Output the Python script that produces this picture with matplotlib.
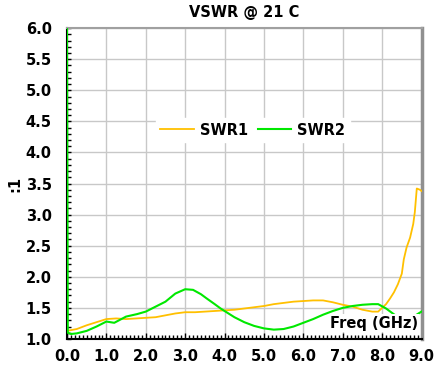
import matplotlib
matplotlib.use('Agg')
import matplotlib.pyplot as plt
from matplotlib.ticker import MultipleLocator, FormatStrFormatter

plt.rcParams['font.family'] = ['DejaVu Sans']
plt.rcParams['font.weight'] = 'bold'

# SWR1 (yellow)
freq1 = [0.0, 0.25, 0.5, 0.75, 1.0, 1.25, 1.5, 1.75, 2.0, 2.25, 2.5, 2.75,
         3.0, 3.25, 3.5, 3.75, 4.0, 4.25, 4.5, 4.75, 5.0, 5.25, 5.5, 5.75,
         6.0, 6.25, 6.5, 6.75, 7.0, 7.25, 7.5, 7.75, 7.9, 8.0, 8.1, 8.2,
         8.3, 8.4, 8.5, 8.55, 8.62, 8.71, 8.79, 8.83, 8.88, 8.96, 9.0]
swr1 = [1.13, 1.16, 1.22, 1.27, 1.32, 1.33, 1.32, 1.33, 1.34, 1.35, 1.38, 1.41,
        1.43, 1.43, 1.44, 1.45, 1.46, 1.47, 1.49, 1.51, 1.53, 1.56, 1.58, 1.60,
        1.61, 1.62, 1.62, 1.59, 1.55, 1.52, 1.47, 1.44, 1.44, 1.50, 1.56, 1.65,
        1.75, 1.88, 2.05, 2.28, 2.47, 2.63, 2.85, 3.04, 3.42, 3.40, 3.38]

# SWR2 (green)
freq2 = [0.0, 0.02, 0.1, 0.25, 0.5, 0.75, 1.0, 1.2, 1.5, 1.78, 2.0, 2.25,
         2.5, 2.75, 3.0, 3.2, 3.4, 3.55, 3.75, 3.9, 4.1, 4.25, 4.5, 4.75,
         5.0, 5.25, 5.5, 5.75, 6.0, 6.25, 6.5, 6.75, 7.0, 7.25, 7.5, 7.75,
         7.9, 8.1, 8.25, 8.4, 8.58, 8.75, 9.0]
swr2 = [6.05, 1.10, 1.08, 1.09, 1.13, 1.20, 1.28, 1.26, 1.36, 1.40, 1.44, 1.52,
        1.60, 1.73, 1.80, 1.79, 1.72, 1.65, 1.56, 1.49, 1.41, 1.35, 1.27, 1.21,
        1.17, 1.15, 1.16, 1.20, 1.26, 1.32, 1.39, 1.45, 1.50, 1.53, 1.55, 1.56,
        1.56, 1.49, 1.42, 1.35, 1.30, 1.34, 1.44]

fig = plt.figure(figsize=(4.35, 3.8), dpi=100)
ax = fig.add_axes([0.154, 0.108, 0.815, 0.818])

ax.plot(freq1, swr1, color='#FFC000', lw=1.3, label='SWR1', zorder=3)
ax.plot(freq2, swr2, color='#00E800', lw=1.5, label='SWR2', zorder=3)

ax.set_xlim(0, 9)
ax.set_ylim(1, 6)
ax.xaxis.set_major_locator(MultipleLocator(1))
ax.xaxis.set_minor_locator(MultipleLocator(0.1))
ax.yaxis.set_major_locator(MultipleLocator(0.5))
ax.yaxis.set_minor_locator(MultipleLocator(0.1))
ax.xaxis.set_major_formatter(FormatStrFormatter('%.1f'))
ax.yaxis.set_major_formatter(FormatStrFormatter('%.1f'))
ax.tick_params(axis='x', which='major', direction='in', length=4, width=1,
               pad=7, labelsize=10.5)
ax.tick_params(axis='y', which='major', direction='in', length=3, width=1,
               pad=11, labelsize=10.5)
ax.tick_params(which='minor', direction='in', length=3, width=1)
ax.grid(True, which='major', color='#C8C8C8', lw=1)
ax.set_axisbelow(True)

for side in ['bottom', 'left']:
    ax.spines[side].set_color('black')
    ax.spines[side].set_linewidth(1.5)
ax.spines['top'].set_color('#A0A0A0')
ax.spines['top'].set_linewidth(1.5)
ax.spines['right'].set_color('#909090')
ax.spines['right'].set_linewidth(2.5)

ax.set_title('VSWR @ 21 C', fontsize=10.5, fontweight='bold', pad=8)
ax.set_ylabel(':1', fontsize=10.5, fontweight='bold', labelpad=2)
ax.text(0.99, 0.05, 'Freq (GHz)', transform=ax.transAxes, ha='right',
        va='center', fontsize=10.5, fontweight='bold', zorder=4,
        bbox=dict(facecolor='white', edgecolor='none', pad=1))

leg = ax.legend(loc='center', bbox_to_anchor=(0.524, 0.672), ncol=2,
                frameon=True, fancybox=False, edgecolor='white',
                facecolor='white', framealpha=1, fontsize=10.5,
                handlelength=2.3, columnspacing=0.7, handletextpad=0.4,
                borderpad=0.3)
for t in leg.get_texts():
    t.set_fontweight('bold')

plt.savefig('out.png', dpi=100)
